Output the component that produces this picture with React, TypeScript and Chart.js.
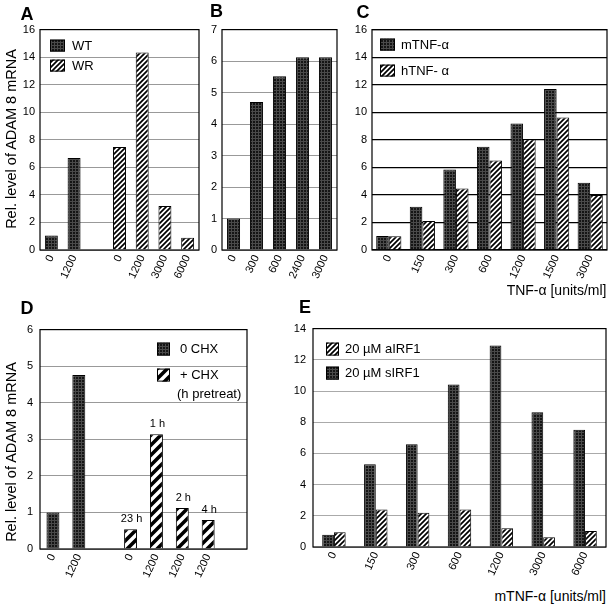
import React, { useEffect, useRef } from "react";
import { Chart, registerables } from "chart.js";
Chart.register(...registerables);

const FONT = 'Arial, "Liberation Sans", Helvetica, sans-serif';

// ---------- Panel A ----------
const aCategories = ["0", "1200", "", "0", "1200", "3000", "6000"];
const aWT = [1.05, 6.67, null, null, null, null, null];
const aWR = [null, null, null, 7.48, 14.34, 3.19, 0.89];

// ---------- Panel B ----------
const bCategories = ["0", "300", "600", "2400", "3000"];
const bValues = [1.0, 4.7, 5.52, 6.12, 6.12];

// ---------- Panel C ----------
const cCategories = ["0", "150", "300", "600", "1200", "1500", "3000"];
const cMouse = [1.01, 3.14, 5.85, 7.49, 9.18, 11.69, 4.88];
const cHuman = [1.0, 2.1, 4.47, 6.5, 8.04, 9.61, 3.99];

// ---------- Panel D ----------
const dCategories = ["0", "1200", "", "0", "1200", "1200", "1200", ""];
const dNoChx = [1.0, 4.76, null, null, null, null, null, null];
const dChx = [null, null, null, 0.54, 3.14, 1.12, 0.79, null];
const dChxTimes = ["", "", "", "23 h", "1 h", "2 h", "4 h", ""];

// ---------- Panel E ----------
const eCategories = ["0", "150", "300", "600", "1200", "3000", "6000"];
const eSense = [0.78, 5.31, 6.59, 10.41, 12.91, 8.63, 7.51];
const eAnti = [0.94, 2.41, 2.2, 2.41, 1.2, 0.63, 1.03];

function makeDark(): CanvasPattern {
  const c = document.createElement("canvas");
  c.width = 3;
  c.height = 3;
  const x = c.getContext("2d")!;
  x.fillStyle = "#151515";
  x.fillRect(0, 0, 3, 3);
  x.fillStyle = "#4a4a4a";
  x.fillRect(0, 0, 3, 1);
  x.fillRect(0, 0, 1, 3);
  return x.createPattern(c, "repeat")!;
}

function makeHatch(size: number, lw: number): CanvasPattern {
  const c = document.createElement("canvas");
  c.width = size;
  c.height = size;
  const x = c.getContext("2d")!;
  x.fillStyle = "#fff";
  x.fillRect(0, 0, size, size);
  x.strokeStyle = "#000";
  x.lineWidth = lw;
  x.beginPath();
  x.moveTo(-1, size + 1);
  x.lineTo(size + 1, -1);
  x.moveTo(-size / 2 - 1, size / 2 + 1);
  x.lineTo(size / 2 + 1, -size / 2 - 1);
  x.moveTo(size / 2 - 1, size * 1.5 + 1);
  x.lineTo(size * 1.5 + 1, size / 2 - 1);
  x.stroke();
  return x.createPattern(c, "repeat")!;
}

const framePlugin = {
  id: "frame",
  afterDatasetsDraw(chart: any) {
    const { ctx, chartArea: a } = chart;
    ctx.save();
    ctx.strokeStyle = "#000";
    ctx.lineWidth = 1.2;
    ctx.strokeRect(a.left, a.top, a.right - a.left, a.bottom - a.top);
    ctx.restore();
  },
};

type LegendItem = { ds?: number; text?: string; x: number; y: number };

function legendPlugin(items: LegendItem[], boxW: number, boxH: number, gap: number, size: number) {
  return {
    id: "insideLegend",
    afterDraw(chart: any) {
      const { ctx, chartArea: a } = chart;
      ctx.save();
      ctx.font = `${size}px ${FONT}`;
      ctx.textBaseline = "middle";
      ctx.textAlign = "left";
      for (const it of items) {
        const x = a.left + it.x;
        const y = a.top + it.y;
        if (it.ds !== undefined) {
          const ds = chart.data.datasets[it.ds];
          ctx.fillStyle = ds.backgroundColor;
          ctx.fillRect(x, y, boxW, boxH);
          ctx.strokeStyle = "#000";
          ctx.lineWidth = 1;
          ctx.strokeRect(x + 0.5, y + 0.5, boxW - 1, boxH - 1);
          ctx.fillStyle = "#000";
          ctx.fillText(ds.label, x + gap, y + boxH / 2 + 0.5);
        } else if (it.text) {
          ctx.fillStyle = "#000";
          ctx.fillText(it.text, x, y);
        }
      }
      ctx.restore();
    },
  };
}

function barLabelPlugin(dsIndex: number, labels: string[]) {
  return {
    id: "barLabels",
    afterDatasetsDraw(chart: any) {
      const { ctx } = chart;
      const meta = chart.getDatasetMeta(dsIndex);
      ctx.save();
      ctx.font = `11px ${FONT}`;
      ctx.fillStyle = "#000";
      ctx.textAlign = "center";
      ctx.textBaseline = "alphabetic";
      meta.data.forEach((el: any, i: number) => {
        const t = labels[i];
        if (!t) return;
        ctx.fillText(t, el.x + 1, el.y - 7);
      });
      ctx.restore();
    },
  };
}

function baseOptions(p: {
  yMax: number;
  yStep: number;
  yw: number;
  xh: number;
  padTop: number;
  padRight: number;
  gridColor: string;
  gridWidth: number;
  yPad: number;
  grouped: boolean;
}) {
  return {
    responsive: false,
    animation: false,
    events: [],
    layout: { padding: { top: p.padTop, right: p.padRight, left: 0, bottom: 0 } },
    datasets: { bar: { grouped: p.grouped } },
    plugins: { legend: { display: false }, tooltip: { enabled: false } },
    scales: {
      x: {
        grid: { display: false, drawTicks: false },
        border: { display: false },
        ticks: {
          autoSkip: false,
          minRotation: 65,
          maxRotation: 65,
          font: { family: FONT, size: 11 },
          color: "#000",
          padding: 3,
        },
        afterFit: (s: any) => {
          s.height = p.xh;
        },
      },
      y: {
        min: 0,
        max: p.yMax,
        grid: { color: p.gridColor, lineWidth: p.gridWidth, drawTicks: false },
        border: { display: false },
        ticks: {
          stepSize: p.yStep,
          font: { family: FONT, size: 11 },
          color: "#000",
          padding: p.yPad,
        },
        afterFit: (s: any) => {
          s.width = p.yw;
        },
      },
    },
  };
}

function ChartBox(props: { left: number; top: number; width: number; height: number; make: () => any }) {
  const ref = useRef<HTMLCanvasElement>(null);
  useEffect(() => {
    const chart = new Chart(ref.current!, props.make());
    return () => chart.destroy();
  }, []);
  return (
    <canvas
      ref={ref}
      width={props.width}
      height={props.height}
      style={{ position: "absolute", left: props.left, top: props.top, width: props.width, height: props.height }}
    />
  );
}

function Txt(props: {
  x: number;
  base: number;
  size: number;
  bold?: boolean;
  right?: boolean;
  children: React.ReactNode;
}) {
  return (
    <div
      style={{
        position: "absolute",
        left: props.x,
        top: props.base - 0.3465 * props.size,
        height: 0,
        lineHeight: 0,
        fontFamily: FONT,
        fontSize: props.size,
        fontWeight: props.bold ? "bold" : "normal",
        whiteSpace: "nowrap",
        transform: props.right ? "translateX(-100%)" : undefined,
        color: "#000",
      }}
    >
      {props.children}
    </div>
  );
}

function VTitle(props: { cx: number; cy: number; size: number; children: React.ReactNode }) {
  return (
    <div
      style={{
        position: "absolute",
        left: props.cx,
        top: props.cy,
        fontFamily: FONT,
        fontSize: props.size,
        lineHeight: 1,
        whiteSpace: "nowrap",
        transform: "translate(-50%, -50%) rotate(-90deg)",
        color: "#000",
      }}
    >
      {props.children}
    </div>
  );
}

export default function App() {
  const makeA = () => {
    const dark = makeDark();
    const hatch = makeHatch(5, 1.7);
    return {
      type: "bar",
      data: {
        labels: aCategories,
        datasets: [
          { label: "WT", data: aWT, backgroundColor: dark, borderColor: "#000", borderWidth: 1, barPercentage: 0.57, categoryPercentage: 1 },
          { label: "WR", data: aWR, backgroundColor: hatch, borderColor: "#000", borderWidth: 1, barPercentage: 0.57, categoryPercentage: 1 },
        ],
      },
      options: baseOptions({ yMax: 16, yStep: 2, yw: 40, xh: 40, padTop: 10, padRight: 5, gridColor: "#999", gridWidth: 1, yPad: 5, grouped: false }),
      plugins: [framePlugin, legendPlugin([{ ds: 0, x: 10, y: 10 }, { ds: 1, x: 10, y: 30 }], 15, 12, 22, 13)],
    };
  };
  const makeB = () => {
    const dark = makeDark();
    return {
      type: "bar",
      data: {
        labels: bCategories,
        datasets: [{ label: "B", data: bValues, backgroundColor: dark, borderColor: "#000", borderWidth: 1, barPercentage: 0.57, categoryPercentage: 1 }],
      },
      options: baseOptions({ yMax: 7, yStep: 1, yw: 18, xh: 40, padTop: 10, padRight: 5, gridColor: "#999", gridWidth: 1, yPad: 5, grouped: false }),
      plugins: [framePlugin],
    };
  };
  const makeC = () => {
    const dark = makeDark();
    const hatch = makeHatch(5, 1.7);
    return {
      type: "bar",
      data: {
        labels: cCategories,
        datasets: [
          { label: "mTNF-α", data: cMouse, backgroundColor: dark, borderColor: "#000", borderWidth: 1, barPercentage: 1, categoryPercentage: 0.75 },
          { label: "hTNF- α", data: cHuman, backgroundColor: hatch, borderColor: "#000", borderWidth: 1, barPercentage: 1, categoryPercentage: 0.75 },
        ],
      },
      options: baseOptions({ yMax: 16, yStep: 2, yw: 22, xh: 40, padTop: 10, padRight: 5, gridColor: "#000", gridWidth: 1.2, yPad: 5, grouped: true }),
      plugins: [framePlugin, legendPlugin([{ ds: 0, x: 8, y: 9 }, { ds: 1, x: 8, y: 35 }], 15, 12, 21, 13)],
    };
  };
  const makeD = () => {
    const dark = makeDark();
    const hatch = makeHatch(10, 3.6);
    return {
      type: "bar",
      data: {
        labels: dCategories,
        datasets: [
          { label: "0 CHX", data: dNoChx, backgroundColor: dark, borderColor: "#000", borderWidth: 1, barPercentage: 0.5, categoryPercentage: 1 },
          { label: "+ CHX", data: dChx, backgroundColor: hatch, borderColor: "#000", borderWidth: 1, barPercentage: 0.5, categoryPercentage: 1 },
        ],
      },
      options: baseOptions({ yMax: 6, yStep: 1, yw: 40, xh: 40, padTop: 10, padRight: 5, gridColor: "#999", gridWidth: 1, yPad: 7, grouped: false }),
      plugins: [
        framePlugin,
        legendPlugin([{ ds: 0, x: 117, y: 13 }, { ds: 1, x: 117, y: 39 }, { text: "(h pretreat)", x: 137, y: 65 }], 13, 13, 23, 13),
        barLabelPlugin(1, dChxTimes),
      ],
    };
  };
  const makeE = () => {
    const dark = makeDark();
    const hatch = makeHatch(5, 1.7);
    return {
      type: "bar",
      data: {
        labels: eCategories,
        datasets: [
          { label: "20 µM sIRF1", data: eSense, backgroundColor: dark, borderColor: "#000", borderWidth: 1, barPercentage: 1, categoryPercentage: 0.56 },
          { label: "20 µM aIRF1", data: eAnti, backgroundColor: hatch, borderColor: "#000", borderWidth: 1, barPercentage: 1, categoryPercentage: 0.56 },
        ],
      },
      options: baseOptions({ yMax: 14, yStep: 2, yw: 23, xh: 40, padTop: 10, padRight: 5, gridColor: "#aaa", gridWidth: 1, yPad: 7, grouped: true }),
      plugins: [framePlugin, legendPlugin([{ ds: 1, x: 13, y: 14 }, { ds: 0, x: 13, y: 38 }], 13, 13, 19, 13)],
    };
  };

  return (
    <div style={{ position: "absolute", left: 0, top: 0, width: 612, height: 607, background: "#fff", overflow: "hidden" }}>
      <ChartBox left={0} top={18} width={204} height={272} make={makeA} />
      <ChartBox left={204} top={18} width={138} height={272} make={makeB} />
      <ChartBox left={350} top={18} width={262} height={272} make={makeC} />
      <ChartBox left={0} top={316} width={252} height={273} make={makeD} />
      <ChartBox left={290} top={315} width={321} height={272} make={makeE} />

      <Txt x={20.5} base={20} size={18} bold>A</Txt>
      <Txt x={210} base={17} size={18} bold>B</Txt>
      <Txt x={356.5} base={18.5} size={18} bold>C</Txt>
      <Txt x={20.5} base={314} size={18} bold>D</Txt>
      <Txt x={299} base={313} size={18} bold>E</Txt>

      <VTitle cx={10.5} cy={138.5} size={14.5}>Rel. level of ADAM 8 mRNA</VTitle>
      <VTitle cx={10.5} cy={451.5} size={14.5}>Rel. level of ADAM 8 mRNA</VTitle>

      <Txt x={606.5} base={295} size={14} right>TNF-α [units/ml]</Txt>
      <Txt x={606} base={600.5} size={14} right>mTNF-α [units/ml]</Txt>
    </div>
  );
}
